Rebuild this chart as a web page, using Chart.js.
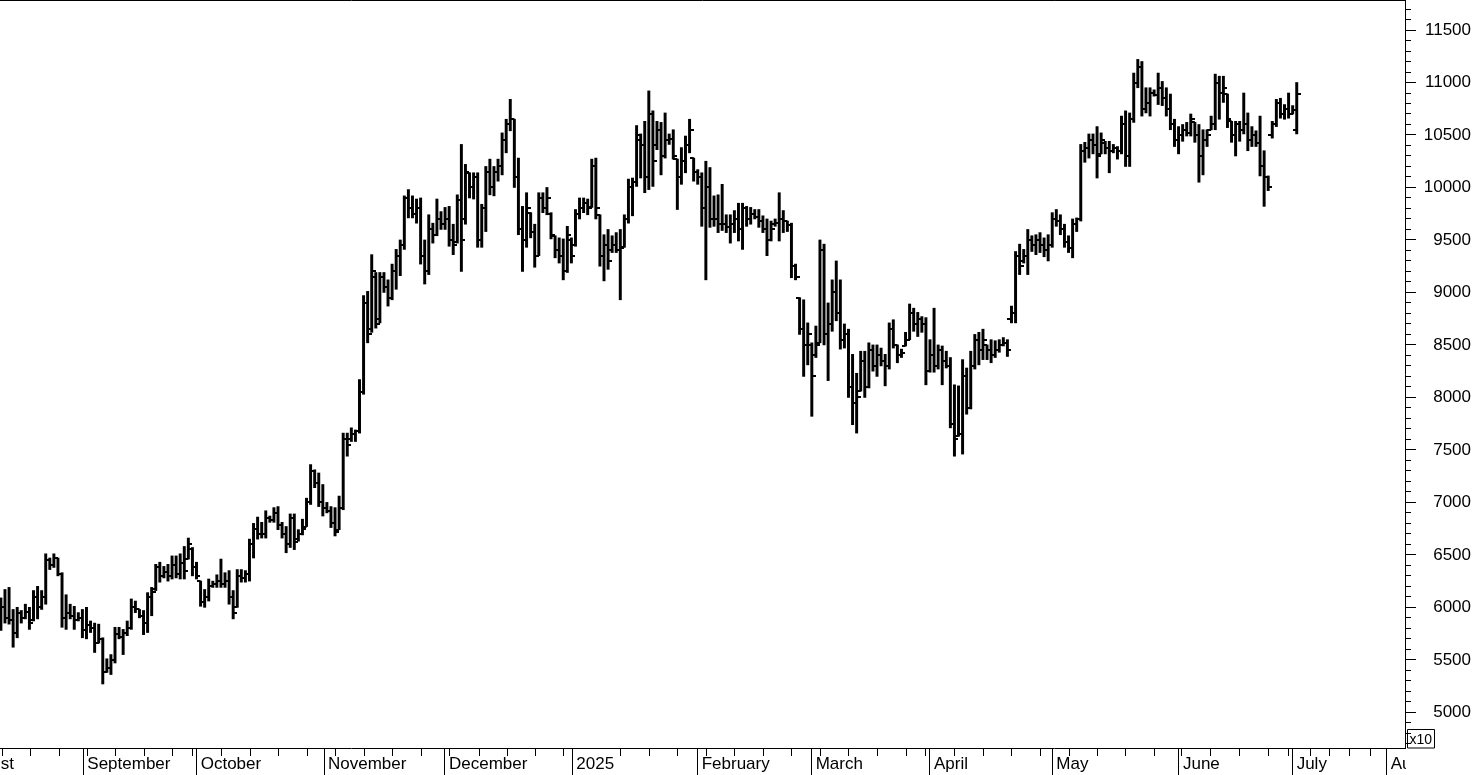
<!DOCTYPE html>
<html>
<head>
<meta charset="utf-8">
<script src="https://cdn.jsdelivr.net/npm/chart.js@4.4.1/dist/chart.umd.min.js"></script>
<style>
html,body{margin:0;padding:0;background:#fff;}
canvas{display:block;}
</style>
</head>
<body>
<canvas id="c" width="1476" height="775"></canvas>
<script>
// ---- data (price values, x10 units) ----
const highP = [
6090,6170,6190,5980,6000,5970,6030,6000,6160,6200,
6160,6510,6470,6510,6470,6330,6120,6030,6010,5950,
5980,6000,5870,5850,5840,5710,5510,5550,5810,5810,
5790,5870,6080,6060,5980,5970,6140,6190,6410,6430,
6390,6410,6490,6490,6510,6580,6660,6570,6430,6250,
6170,6270,6250,6310,6460,6330,6350,6160,6360,6360,
6350,6650,6800,6860,6810,6920,6870,6950,6960,6810,
6770,6890,6890,6740,6840,7040,7360,7310,7280,7170,
7000,6960,6950,7060,7660,7660,7710,7690,8170,8970,
9010,9360,9190,9190,9190,9120,9270,9410,9500,9920,
9980,9920,9890,9900,9500,9740,9660,9890,9770,9810,
9820,9650,9930,10410,10220,10140,10140,10140,9840,10200,
10270,10200,10270,10520,10650,10840,10650,10280,9820,9950,
9760,9650,9950,9950,10000,9760,9540,9520,9510,9630,
9520,9790,9900,9900,9890,10270,10280,9740,9550,9600,
9540,9570,9600,9740,10080,10090,10590,10510,10630,10920,
10730,10630,10620,10710,10510,10550,10270,10380,10490,10650,
10280,10170,10140,10250,10190,9920,9930,10030,9740,9740,
9780,9850,9850,9820,9810,9790,9790,9730,9700,9680,
9700,9950,9780,9680,9660,9270,8950,8930,8710,8520,
8680,9500,9460,8900,9120,9300,9120,8700,8650,8410,
8230,8440,8440,8520,8500,8500,8470,8410,8710,8740,
8500,8460,8620,8890,8850,8810,8770,8760,8550,8850,
8500,8490,8440,8380,8120,8110,8360,8280,8440,8600,
8620,8650,8500,8550,8540,8550,8570,8550,8870,9390,
9460,9410,9600,9540,9550,9570,9520,9550,9760,9790,
9740,9650,9540,9700,9710,10410,10430,10510,10510,10580,
10520,10440,10440,10410,10390,10680,10730,10710,11090,11220,
11200,10950,10950,10930,11090,11010,10950,10890,10650,10580,
10600,10620,10700,10620,10600,10550,10550,10680,11080,11060,
11060,10890,10630,10630,10630,10900,10710,10580,10540,10680,
10350,10110,10630,10840,10850,10790,10900,10780,11000
];
const lowP = [
5780,5850,5840,5620,5710,5850,5890,5790,5870,5890,
5980,6030,6360,6380,6300,5810,5790,5890,5790,5870,
5710,5700,5760,5570,5660,5270,5380,5360,5470,5700,
5550,5730,5790,5950,5900,5740,5760,5920,6160,6240,
6280,6250,6270,6280,6270,6270,6460,6300,6270,6010,
6000,6060,6190,6190,6190,6190,6030,5890,6000,6240,
6240,6250,6470,6650,6660,6660,6810,6810,6740,6660,
6520,6570,6550,6630,6690,6770,6980,7140,6960,6870,
6900,6760,6680,6740,6930,7440,7580,7580,7660,8030,
8520,8620,8660,8710,9000,8870,8930,9030,9160,9410,
9710,9710,9660,9270,9080,9170,9470,9540,9600,9600,
9440,9360,9470,9200,9650,9900,9890,9430,9430,9580,
9930,9920,10060,10120,10330,10540,10000,9550,9200,9430,
9520,9240,9350,9760,9740,9510,9330,9280,9120,9190,
9280,9440,9700,9760,9740,9810,9700,9250,9110,9220,
9380,9380,8930,9430,9660,9730,10010,10090,9950,9980,
10010,10360,10120,10280,10410,10270,9790,10030,10140,10330,
10060,10030,9630,9120,9620,9630,9570,9590,9570,9470,
9570,9490,9410,9630,9650,9700,9620,9570,9350,9490,
9630,9490,9570,9580,9140,9120,8600,8200,8310,7820,
8380,8520,8500,8160,8630,8730,8460,8470,8000,7740,
7660,8060,8000,8090,8250,8200,8300,8110,8270,8470,
8330,8380,8490,8550,8630,8580,8620,8120,8240,8240,
8270,8120,8280,7710,7440,7630,7460,7840,7890,8270,
8310,8360,8360,8330,8380,8430,8490,8390,8710,8710,
9170,9280,9170,9390,9360,9380,9340,9300,9430,9630,
9550,9430,9380,9330,9580,9680,10240,10280,10320,10090,
10320,10320,10140,10330,10270,10320,10200,10200,10620,10950,
10680,10710,10680,10870,10790,10780,10680,10550,10390,10320,
10440,10490,10490,10430,10050,10120,10390,10550,10550,10650,
10810,10570,10430,10300,10440,10510,10350,10390,10390,10110,
9820,9970,10470,10580,10660,10650,10660,10700,10510
];
const openP = [
5850,6000,5900,5880,5760,5950,5900,5960,5880,6100,
6000,6100,6450,6400,6470,6320,5900,5950,5920,5880,
5900,5780,5830,5800,5660,5700,5380,5420,5500,5750,
5720,5760,5800,6000,5980,5920,5850,6100,6170,6380,
6300,6340,6300,6400,6320,6420,6460,6560,6380,6250,
6050,6100,6200,6220,6250,6220,6250,6100,6000,6300,
6280,6320,6600,6750,6700,6700,6850,6830,6900,6780,
6700,6600,6850,6650,6700,6770,7000,7300,7180,7000,
6950,6920,6800,6740,6950,7600,7600,7650,7680,8050,
8900,8650,9150,8750,9150,9050,8950,9200,9350,9450,
9900,9800,9750,9800,9350,9200,9600,9550,9700,9650,
9700,9500,9480,9880,9700,10140,10000,10100,9500,9800,
10150,10000,10150,10200,10450,10600,10650,10100,9600,9500,
9760,9580,9350,9900,9800,9750,9540,9400,9350,9200,
9500,9450,9750,9800,9850,9810,10200,9740,9350,9450,
9400,9450,9400,9430,9700,10000,10050,10450,10400,10100,
10700,10400,10550,10300,10450,10460,10270,10100,10250,10400,
10280,10150,10100,9800,10000,9700,9700,9650,9650,9620,
9650,9700,9600,9800,9700,9750,9720,9680,9600,9500,
9650,9660,9700,9680,9640,9250,8950,8650,8500,8500,
8400,8520,9400,8600,8700,9000,8800,8550,8600,8100,
7950,8060,8350,8100,8450,8300,8400,8350,8300,8650,
8500,8400,8490,8550,8800,8700,8750,8700,8250,8400,
8300,8450,8350,8300,7750,7630,7650,8200,7900,8300,
8550,8450,8500,8450,8400,8450,8500,8520,8750,8800,
9350,9300,9350,9500,9450,9500,9450,9400,9450,9700,
9680,9600,9480,9420,9650,9700,10350,10380,10450,10400,
10320,10420,10380,10350,10380,10350,10600,10300,10650,11000,
11150,10750,10800,10900,10880,10950,10850,10750,10600,10450,
10500,10550,10520,10620,10500,10300,10450,10550,10600,11000,
10900,10890,10630,10500,10600,10550,10600,10450,10500,10420,
10200,10100,10500,10600,10800,10700,10750,10700,10550
];
const closeP = [
6000,5900,5880,5760,5950,5900,5960,5850,6100,6000,
6100,6450,6400,6470,6320,5900,5950,5920,5880,5900,
5780,5830,5800,5660,5700,5380,5420,5500,5750,5720,
5760,5800,6000,5980,5920,5850,6100,6150,6380,6300,
6340,6300,6400,6320,6420,6350,6600,6380,6300,6050,
6100,6200,6220,6250,6220,6250,6100,5950,6300,6280,
6320,6600,6750,6700,6700,6850,6830,6900,6780,6700,
6600,6850,6620,6700,6750,7000,7300,7180,7000,6950,
6920,6800,6720,6950,7600,7550,7650,7680,8050,8900,
8600,9200,8700,9150,9050,8950,9200,9350,9450,9900,
9800,9750,9800,9350,9200,9600,9550,9700,9650,9700,
9500,9450,9880,9500,10150,10000,10100,9500,9800,10150,
10000,10150,10200,10450,10600,10650,10100,9600,9500,9800,
9580,9350,9900,9800,9900,9550,9400,9350,9200,9550,
9350,9750,9800,9850,9800,10200,9800,9350,9450,9300,
9450,9400,9420,9700,10000,10050,10500,10400,10100,10700,
10250,10550,10300,10450,10460,10300,10100,10250,10400,10550,
10150,10100,9800,10000,9700,9700,9650,9650,9620,9650,
9700,9600,9800,9700,9750,9720,9680,9600,9500,9600,
9660,9700,9680,9640,9250,9150,8650,8500,8600,8200,
8500,9400,8600,8700,9000,8800,8550,8600,8100,7950,
8000,8350,8100,8450,8300,8400,8350,8300,8650,8500,
8400,8420,8550,8800,8700,8750,8700,8250,8400,8300,
8450,8350,8300,7750,7600,7650,8200,7900,8300,8550,
8450,8550,8450,8400,8450,8500,8520,8450,8800,9350,
9250,9350,9500,9450,9500,9450,9400,9450,9700,9680,
9600,9480,9420,9650,9700,10350,10380,10450,10400,10300,
10450,10380,10350,10380,10350,10600,10300,10650,11000,11150,
10750,10800,10900,10880,10950,10850,10750,10600,10450,10500,
10550,10520,10650,10500,10300,10450,10500,10600,11000,10900,
10950,10650,10500,10600,10550,10600,10450,10500,10420,10200,
10100,10000,10600,10800,10700,10750,10700,10740,10890
];

// x-axis: month boundaries and weekly ticks, in bar-index units
const monthLabels = ['August','September','October','November','December','2025','February','March','April','May','June','July','August'];
const monthPos = [-10.77, 20.22, 48.05, 79.29, 108.98, 140.22, 170.99, 198.97, 228.0, 258.01, 289.1, 317.0, 340.1];
const weekPos = [0.32, 7.31, 14.26, 21.2, 28.17, 35.12, 42.23, 46.97, 54.18, 61.3, 68.07, 75.19, 81.99, 89.18, 96.15, 103.26, 110.21, 117.33, 124.3, 131.24, 138.18, 152.0, 159.1, 166.1, 173.2, 180.1, 187.1, 194.1, 201.2, 207.9, 215.2, 222.3, 227.0, 234.1, 241.1, 248.0, 255.2, 262.2, 269.1, 276.0, 283.0, 289.6, 296.9, 303.9, 311.0, 315.9, 321.3, 326.0, 330.9, 336.1];

// y-axis range / ticks
const yMin = 4660, yMax = 11786, yMinorStep = 100, yMajorStep = 500;
const xMin = -0.221, xMax = 344.57;
const multiplierLabel = 'x10';

// ---- build ----
function tickImg(side){
  const c = document.createElement('canvas');
  c.width = 8; c.height = 2;
  const g = c.getContext('2d');
  g.fillStyle = '#000';
  if (side === 'left') g.fillRect(0,0,4,2); else g.fillRect(4,0,4,2);
  return c;
}
const openImg = tickImg('left');
const closeImg = tickImg('right');

const barData = highP.map((h,i)=>({x:i, y:[lowP[i], h]}));
const openData = openP.map((v,i)=>({x:i, y:v}));
const closeData = closeP.map((v,i)=>({x:i, y:v}));

const xTickList = monthPos.map((v,i)=>({value:v, txt:monthLabels[i], month:true}))
  .concat(weekPos.map(v=>({value:v, txt:'', month:false})))
  .sort((a,b)=>a.value-b.value);
const yTickList = [];
for (let v = Math.ceil(yMin/yMinorStep)*yMinorStep; v <= yMax; v += yMinorStep) yTickList.push(v);

const font17 = {family:"'Liberation Sans', Arial, sans-serif", size:17};

const framePlugin = {
  id:'frame',
  afterDraw(chart){
    const {ctx, chartArea:a} = chart;
    ctx.save();
    ctx.fillStyle = '#fff';
    ctx.fillRect(a.right + 1, a.bottom + 1, chart.width - a.right, chart.height - a.bottom);
    ctx.strokeStyle = '#000';
    ctx.lineWidth = 1;
    ctx.beginPath();
    ctx.moveTo(a.left, 0.5); ctx.lineTo(a.right + 0.5, 0.5);
    ctx.stroke();
    ctx.beginPath();
    ctx.rect(a.right + 2.5, a.bottom - 18.5, 27, 18.5);
    ctx.stroke();
    ctx.fillStyle = '#000';
    ctx.font = "14px 'Liberation Sans', Arial, sans-serif";
    ctx.textBaseline = 'alphabetic';
    ctx.fillText(multiplierLabel, a.right + 4.5, a.bottom - 4);
    ctx.restore();
  }
};

new Chart(document.getElementById('c'), {
  type:'bar',
  data:{
    datasets:[
      {type:'bar', data:barData, backgroundColor:'#000', borderWidth:0, barThickness:2.3, grouped:false},
      {type:'line', data:openData, showLine:false, pointStyle:openImg, pointRadius:4, borderColor:'#000', backgroundColor:'#000'},
      {type:'line', data:closeData, showLine:false, pointStyle:closeImg, pointRadius:4, borderColor:'#000', backgroundColor:'#000'}
    ]
  },
  options:{
    responsive:false,
    animation:false,
    events:[],
    layout:{autoPadding:false, padding:{left:0, right:5, top:0, bottom:0}},
    plugins:{legend:{display:false}, tooltip:{enabled:false}},
    scales:{
      x:{
        type:'linear', position:'bottom', min:xMin, max:xMax, offset:false,
        afterBuildTicks: s => { s.ticks = xTickList.map(t=>({value:t.value, txt:t.txt, month:t.month})); },
        afterFit: s => { s.height = 27; s.paddingLeft = 0; s.paddingRight = 0; },
        ticks:{autoSkip:false, maxRotation:0, minRotation:0, align:'start', labelOffset:4, padding:-21,
               color:'#000', font:font17, callback:(v,i,ticks)=>ticks[i].txt},
        grid:{offset:false, drawOnChartArea:false, tickLength:27, color:'#000', tickColor:'#000', lineWidth:1,
              tickBorderDash: c => (c.tick && c.tick.month) ? [] : [7, 60]},
        border:{display:true, color:'#000', width:1}
      },
      y:{
        type:'linear', position:'right', min:yMin, max:yMax,
        afterBuildTicks: s => { s.ticks = yTickList.map(v=>({value:v})); },
        afterFit: s => { s.width = 66; s.paddingTop = 0; s.paddingBottom = 0; },
        ticks:{autoSkip:false, crossAlign:'far', padding:8, color:'#000', font:font17,
               callback:(v)=> (v % yMajorStep === 0) ? String(v) : ''},
        grid:{drawOnChartArea:false, tickLength:11, color:'#000', tickColor:'#000', lineWidth:1,
              tickBorderDash: c => (c.tick && c.tick.value % yMajorStep === 0) ? [] : [5, 60]},
        border:{display:true, color:'#000', width:1}
      }
    }
  },
  plugins:[framePlugin]
});
</script>
</body>
</html>
